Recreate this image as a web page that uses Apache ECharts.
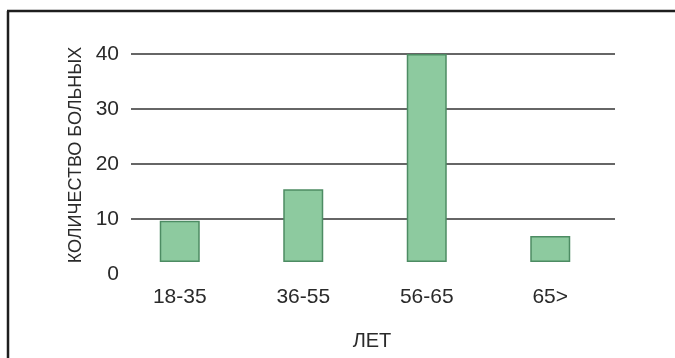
<!DOCTYPE html>
<html>
<head>
<meta charset="utf-8">
<script src="https://cdn.jsdelivr.net/npm/echarts@6/dist/echarts.min.js"></script>
<style>
  html, body { margin: 0; padding: 0; background: #fff; }
  #chart { width: 675px; height: 358px; }
</style>
</head>
<body>
<div id="chart"></div>
<script>
// Age groups and patient counts
const ageGroups = ['18-35', '36-55', '56-65', '65>'];
const barTops = [9.7, 15.4, 40, 6.9];
const barBase = 2.2;           // bars float slightly above the zero line
const yTicks = [0, 10, 20, 30, 40];

const FONT = 'Liberation Sans, Arial, sans-serif';
const TEXT = '#2a2a2a';

const chart = echarts.init(document.getElementById('chart'), null, { renderer: 'canvas' });

const option = {
  backgroundColor: '#ffffff',
  animation: false,
  graphic: [
    { type: 'line', shape: { x1: 8, y1: 11, x2: 8, y2: 358 }, style: { stroke: '#1e1e1e', lineWidth: 2.5 } },
    { type: 'line', shape: { x1: 7, y1: 11, x2: 675, y2: 11 }, style: { stroke: '#1e1e1e', lineWidth: 2.5 } }
  ],
  grid: [
    // bars
    { left: 118, width: 494, top: 54, bottom: 84 },
    // horizontal rules and value labels
    { left: 131, right: 60, top: 54, bottom: 84 }
  ],
  xAxis: [
    {
      type: 'category', gridIndex: 0, data: ageGroups,
      axisLine: { show: false }, axisTick: { show: false },
      axisLabel: { color: TEXT, fontSize: 21, fontFamily: FONT, margin: 13 },
      name: 'ЛЕТ', nameLocation: 'middle', nameGap: 57,
      nameTextStyle: { color: TEXT, fontSize: 20, fontFamily: FONT, padding: [0, 0, 0, 14] }
    },
    { type: 'value', gridIndex: 1, show: false, min: 0, max: 1 }
  ],
  yAxis: [
    { type: 'value', gridIndex: 0, min: 0, max: 40, interval: 10, show: false, splitLine: { show: false } },
    {
      type: 'value', gridIndex: 1, min: yTicks[0], max: yTicks[yTicks.length - 1], interval: 10,
      axisLine: { show: false }, axisTick: { show: false },
      axisLabel: {
        color: TEXT, fontSize: 21, fontFamily: FONT, margin: 12,
        formatter: v => (yTicks.includes(v) ? String(v) : '')
      },
      splitLine: {
        show: true,
        lineStyle: { color: '#333', width: 1.5 },
        showMinLine: false
      },
      name: 'КОЛИЧЕСТВО БОЛЬНЫХ', nameLocation: 'middle', nameGap: 44, nameRotate: 90,
      nameTextStyle: { color: TEXT, fontSize: 18, fontFamily: FONT, padding: [0, 0, 0, 18] }
    }
  ],
  series: [
    {
      type: 'bar', xAxisIndex: 0, yAxisIndex: 0, stack: 'age',
      data: ageGroups.map(() => barBase),
      barWidth: 40,
      itemStyle: { color: 'rgba(0,0,0,0)' },
      silent: true
    },
    {
      type: 'bar', xAxisIndex: 0, yAxisIndex: 0, stack: 'age',
      data: barTops.map(v => v - barBase),
      barWidth: 40,
      itemStyle: { color: '#8dca9f', borderColor: '#4d8c63', borderWidth: 1.5 }
    }
  ]
};

chart.setOption(option);
</script>
</body>
</html>
